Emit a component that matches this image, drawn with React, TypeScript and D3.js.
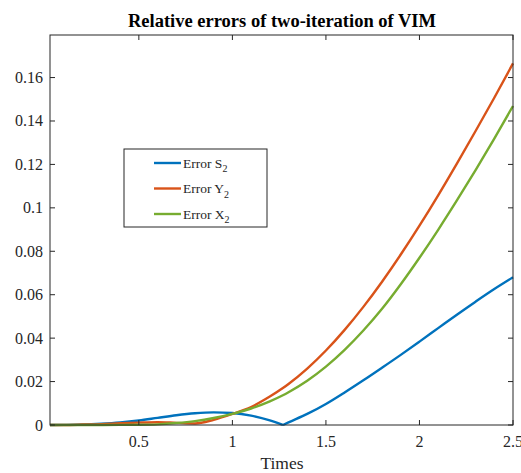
import React from 'react'
import * as d3 from 'd3'

// time samples and the three relative-error series
const times = [0.025, 0.1, 0.2, 0.3, 0.4, 0.5, 0.6, 0.7, 0.8, 0.9, 1.0, 1.1, 1.2, 1.27, 1.3, 1.4, 1.5, 1.6, 1.7, 1.8, 1.9, 2.0, 2.1, 2.2, 2.3, 2.4, 2.5]
const errS2 = [0, 0.00005, 0.0002, 0.0006, 0.0012, 0.0021, 0.0033, 0.0045, 0.0054, 0.0058, 0.0055, 0.0043, 0.0021, 0, 0.0012, 0.0051, 0.0097, 0.015, 0.0206, 0.0264, 0.0323, 0.0384, 0.0446, 0.0508, 0.0568, 0.0626, 0.068]
const errY2 = [0, 0.00003, 0.0002, 0.0004, 0.0008, 0.0011, 0.0013, 0.001, 0.0007, 0.0024, 0.0051, 0.0083, 0.0131, 0.017, 0.0189, 0.026, 0.0343, 0.0438, 0.0544, 0.066, 0.0785, 0.0918, 0.1058, 0.1204, 0.1354, 0.1507, 0.1665]
const errX2 = [0, 0, 0, 0.00002, 0.00005, 0.0001, 0.0003, 0.0009, 0.0018, 0.0032, 0.0051, 0.0076, 0.0109, 0.0137, 0.0151, 0.0204, 0.0269, 0.0346, 0.0435, 0.0535, 0.0648, 0.077, 0.0899, 0.1034, 0.1174, 0.1319, 0.1469]

const xTicks = [0.5, 1, 1.5, 2, 2.5]
const yTicks = [0, 0.02, 0.04, 0.06, 0.08, 0.1, 0.12, 0.14, 0.16]

const seriesNames = ['S', 'Y', 'X']
const seriesColors = ['#0072BD', '#D95319', '#77AC30']

const W = 521, H = 473
const margin = { top: 35, right: 8, bottom: 48, left: 50 }
const font = '"Times New Roman", "Liberation Serif", serif'
const axisColor = '#262626'

export default function App() {
  const x = d3.scaleLinear().domain([0.025, 2.5]).range([margin.left, W - margin.right])
  const y = d3.scaleLinear().domain([0, 0.1796]).range([H - margin.bottom, margin.top])
  const x0 = x.range()[0], x1 = x.range()[1]
  const y0 = y.range()[0], y1 = y.range()[1]

  const line = d3.line<[number, number]>()
    .x(d => x(d[0]))
    .y(d => y(d[1]))
    .curve(d3.curveMonotoneX)

  // draw each series, splitting at a zero so the V-shaped kink stays sharp
  const makePath = (vals: number[]) => {
    const pts = times.map((t, i) => [t, vals[i]] as [number, number])
    const k = vals.findIndex((v, i) => i > 0 && i < vals.length - 1 && v === 0 && vals[i - 1] > 0)
    if (k < 0) return line(pts)
    return line(pts.slice(0, k + 1)) + line(pts.slice(k))
  }
  const allSeries = [errS2, errY2, errX2]
  const tickLen = 5

  return (
    <svg width={W} height={H} style={{ position: 'absolute', left: 0, top: 0, background: '#fff' }}
      fontFamily={font}>
      <rect x={0} y={0} width={W} height={H} fill="#fff" />

      {/* curves */}
      {allSeries.map((vals, i) => (
        <path key={i} d={makePath(vals) || ''} fill="none" stroke={seriesColors[i]}
          strokeWidth={2.4} strokeLinejoin="round" />
      ))}

      {/* box */}
      <rect x={x0} y={y1} width={x1 - x0} height={y0 - y1} fill="none" stroke={axisColor} strokeWidth={1} />

      {/* x ticks */}
      {xTicks.map(t => (
        <g key={'x' + t}>
          <line x1={x(t)} x2={x(t)} y1={y0} y2={y0 - tickLen} stroke={axisColor} />
          <line x1={x(t)} x2={x(t)} y1={y1} y2={y1 + tickLen} stroke={axisColor} />
          <text x={x(t)} y={y0 + 22} textAnchor="middle" fontSize={16} fill={axisColor}>{String(t)}</text>
        </g>
      ))}

      {/* y ticks */}
      {yTicks.map(t => (
        <g key={'y' + t}>
          <line x1={x0} x2={x0 + tickLen} y1={y(t)} y2={y(t)} stroke={axisColor} />
          <line x1={x1} x2={x1 - tickLen} y1={y(t)} y2={y(t)} stroke={axisColor} />
          <text x={x0 - 7} y={y(t) + 5.5} textAnchor="end" fontSize={16} fill={axisColor}>
            {String(+t.toFixed(2))}
          </text>
        </g>
      ))}

      {/* title and axis label */}
      <text x={282} y={27} textAnchor="middle" fontSize={18.5} fontWeight="bold" fill="#000">
        Relative errors of two-iteration of VIM
      </text>
      <text x={282} y={469} textAnchor="middle" fontSize={17.5} fill={axisColor}>Times</text>

      {/* legend */}
      <g>
        <rect x={124} y={149} width={143} height={78} fill="#fff" stroke={axisColor} strokeWidth={1} />
        {seriesNames.map((n, i) => {
          const ly = 163 + i * 25.5
          return (
            <g key={n}>
              <line x1={154} x2={181} y1={ly} y2={ly} stroke={seriesColors[i]} strokeWidth={2.4} />
              <text x={183} y={ly + 4.5} fontSize={13.5} fill={axisColor}>
                {'Error ' + n}
                <tspan dy={4.5} fontSize={10}>2</tspan>
              </text>
            </g>
          )
        })}
      </g>
    </svg>
  )
}
